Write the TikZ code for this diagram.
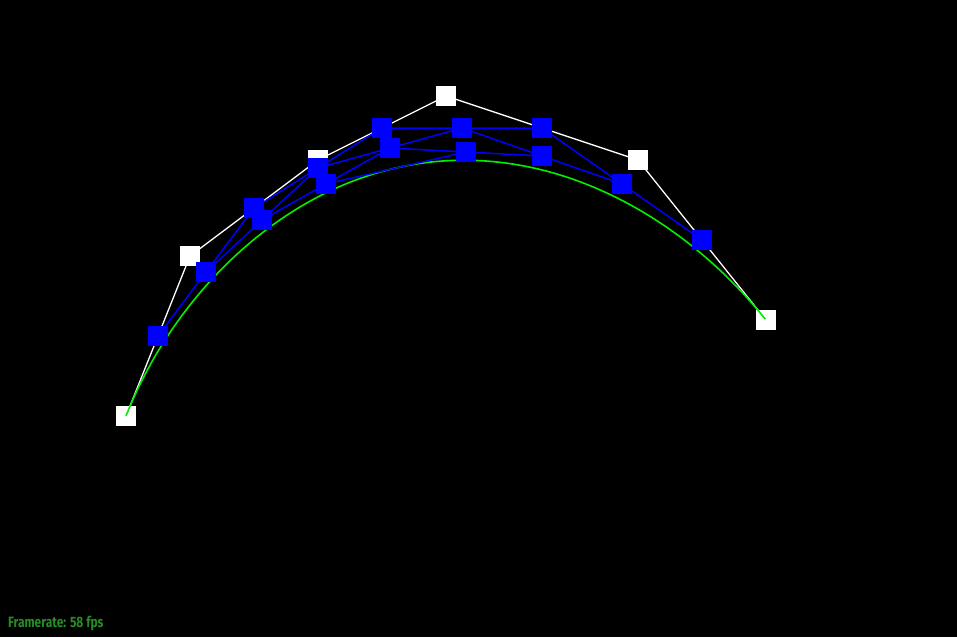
\documentclass[tikz,border=0pt]{standalone}
\usepackage{fontspec}
\setmainfont{Fira Sans}
\usetikzlibrary{calc}
\begin{document}
\begin{tikzpicture}[x=1pt,y=-1pt,
  ctrl/.style={fill=white,draw=none,minimum size=20pt,inner sep=0pt},
  dcp/.style={fill=blue,draw=none,minimum size=20pt,inner sep=0pt},
  wline/.style={draw=white,line width=1.3pt},
  bline/.style={draw=blue,line width=1.5pt},
  curve/.style={draw={rgb,255:red,0;green,240;blue,0},line width=1.6pt},
  fps/.style={text={rgb,255:red,38;green,140;blue,38},anchor=base west,inner sep=0pt,font=\fontsize{15}{15}\selectfont\bfseries}]
\fill[black] (0,0) rectangle (957,637);
\useasboundingbox (0,0) rectangle (957,637);
% control points
\coordinate (p0) at (126,416);
\coordinate (p1) at (190,256);
\coordinate (p2) at (318,160);
\coordinate (p3) at (446,96);
\coordinate (p4) at (638,160);
\coordinate (p5) at (766,320);
% de Casteljau at t = 0.5
\coordinate (a0) at ($(p0)!0.5!(p1)$);
\coordinate (a1) at ($(p1)!0.5!(p2)$);
\coordinate (a2) at ($(p2)!0.5!(p3)$);
\coordinate (a3) at ($(p3)!0.5!(p4)$);
\coordinate (a4) at ($(p4)!0.5!(p5)$);
\coordinate (b0) at ($(a0)!0.5!(a1)$);
\coordinate (b1) at ($(a1)!0.5!(a2)$);
\coordinate (b2) at ($(a2)!0.5!(a3)$);
\coordinate (b3) at ($(a3)!0.5!(a4)$);
\coordinate (c0) at ($(b0)!0.5!(b1)$);
\coordinate (c1) at ($(b1)!0.5!(b2)$);
\coordinate (c2) at ($(b2)!0.5!(b3)$);
\coordinate (d0) at ($(c0)!0.5!(c1)$);
\coordinate (d1) at ($(c1)!0.5!(c2)$);
% control polygon
\draw[wline] (p0) -- (p1) -- (p2) -- (p3) -- (p4) -- (p5);
\foreach \n in {p0,p1,p2,p3,p4,p5} \node[ctrl] (n\n) at (\n) {};
% Bezier curve (degree 5)
\draw[curve] plot[domain=0:1,samples=200,smooth]
  ({(1-\x)^5*126+5*\x*(1-\x)^4*190+10*\x^2*(1-\x)^3*318+10*\x^3*(1-\x)^2*446+5*\x^4*(1-\x)*638+\x^5*766},
   {(1-\x)^5*416+5*\x*(1-\x)^4*256+10*\x^2*(1-\x)^3*160+10*\x^3*(1-\x)^2*96+5*\x^4*(1-\x)*160+\x^5*320});
% construction lines
\draw[bline] (a0) -- (a1) -- (a2) -- (a3) -- (a4);
\draw[bline] (b0) -- (b1) -- (b2) -- (b3);
\draw[bline] (c0) -- (c1) -- (c2);
\draw[bline] (d0) -- (d1);
\foreach \n in {a0,a1,a2,a3,a4,b0,b1,b2,b3,c0,c1,c2,d0,d1} \node[dcp] (n\n) at (\n) {};
\node[fps] (fr) at (8,627) {\scalebox{0.8}[1]{Framerate: 58 fps}};
\end{tikzpicture}
\end{document}
